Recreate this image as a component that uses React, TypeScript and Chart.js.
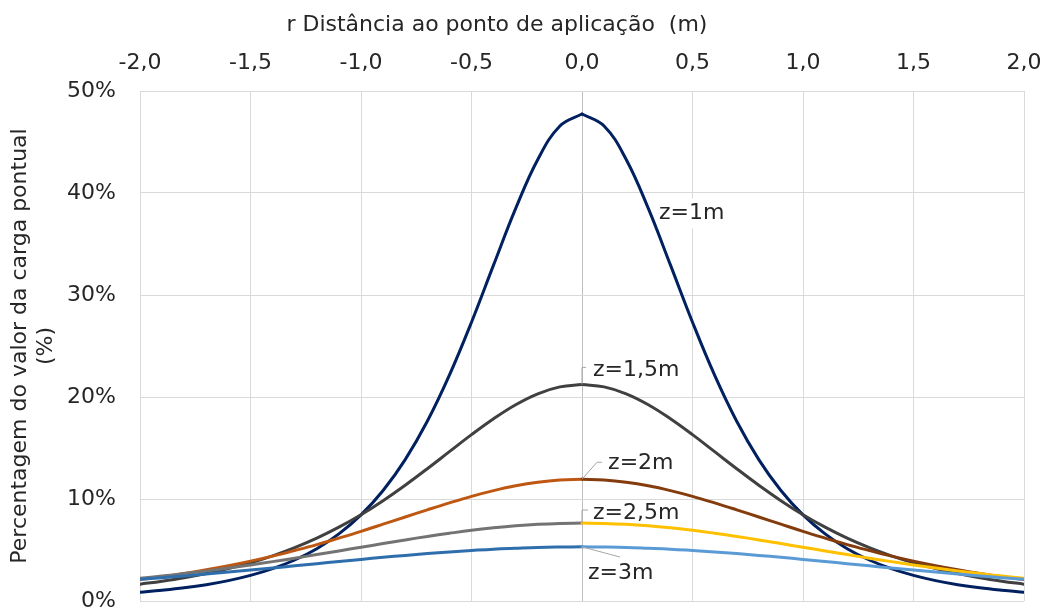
import React, { useEffect, useRef } from 'react';
import { Chart, registerables } from 'chart.js';

Chart.register(...registerables);

// r (m) positions
const R_LEFT = [-2.0, -1.9, -1.8, -1.7, -1.6, -1.5, -1.4, -1.3, -1.2, -1.1, -1.0, -0.9, -0.8, -0.7, -0.6, -0.5, -0.4, -0.3, -0.2, -0.1, 0.0];
const R_RIGHT = [0.0, 0.1, 0.2, 0.3, 0.4, 0.5, 0.6, 0.7, 0.8, 0.9, 1.0, 1.1, 1.2, 1.3, 1.4, 1.5, 1.6, 1.7, 1.8, 1.9, 2.0];

// percentage of point load (%)
const Z1_LEFT = [0.85, 1.05, 1.29, 1.60, 2.00, 2.51, 3.17, 4.02, 5.13, 6.58, 8.44, 10.83, 13.86, 17.62, 22.14, 27.33, 32.95, 38.49, 43.29, 46.57, 47.75];
const Z1_RIGHT = [47.75, 46.57, 43.29, 38.49, 32.95, 27.33, 22.14, 17.62, 13.86, 10.83, 8.44, 6.58, 5.13, 4.02, 3.17, 2.51, 2.00, 1.60, 1.29, 1.05, 0.85];
const Z15_LEFT = [1.65, 1.94, 2.28, 2.69, 3.18, 3.75, 4.43, 5.23, 6.16, 7.24, 8.46, 9.84, 11.35, 12.97, 14.64, 16.31, 17.87, 19.24, 20.31, 20.99, 21.22];
const Z15_RIGHT = [21.22, 20.99, 20.31, 19.24, 17.87, 16.31, 14.64, 12.97, 11.35, 9.84, 8.46, 7.24, 6.16, 5.23, 4.43, 3.75, 3.18, 2.69, 2.28, 1.94, 1.65];
const Z2_LEFT = [2.11, 2.39, 2.71, 3.07, 3.47, 3.91, 4.40, 4.95, 5.53, 6.17, 6.83, 7.53, 8.24, 8.94, 9.62, 10.26, 10.82, 11.29, 11.64, 11.86, 11.94];
const Z2_RIGHT = [11.94, 11.86, 11.64, 11.29, 10.82, 10.26, 9.62, 8.94, 8.24, 7.53, 6.83, 6.17, 5.53, 4.95, 4.40, 3.91, 3.47, 3.07, 2.71, 2.39, 2.11];
const Z25_LEFT = [2.22, 2.44, 2.69, 2.95, 3.24, 3.54, 3.86, 4.20, 4.55, 4.91, 5.27, 5.63, 5.99, 6.33, 6.64, 6.93, 7.17, 7.37, 7.52, 7.61, 7.64];
const Z25_RIGHT = [7.64, 7.61, 7.52, 7.37, 7.17, 6.93, 6.64, 6.33, 5.99, 5.63, 5.27, 4.91, 4.55, 4.20, 3.86, 3.54, 3.24, 2.95, 2.69, 2.44, 2.22];
const Z3_LEFT = [2.12, 2.28, 2.46, 2.64, 2.84, 3.04, 3.24, 3.45, 3.66, 3.87, 4.08, 4.28, 4.47, 4.65, 4.81, 4.95, 5.08, 5.17, 5.25, 5.29, 5.31];
const Z3_RIGHT = [5.31, 5.29, 5.25, 5.17, 5.08, 4.95, 4.81, 4.65, 4.47, 4.28, 4.08, 3.87, 3.66, 3.45, 3.24, 3.04, 2.84, 2.64, 2.46, 2.28, 2.12];

const X_TITLE = 'r Distância ao ponto de aplicação  (m)';
const Y_TITLE = ['Percentagem do valor da carga pontual', '(%)'];

type CurveLabel = { text: string; tx: number; ty: number; leader: [number, number][]; box?: boolean };
const CURVE_LABELS: CurveLabel[] = [
  { text: 'z=1m', tx: 0.348, ty: 38.0, leader: [], box: true },
  { text: 'z=1,5m', tx: 0.05, ty: 22.6, leader: [[0, 21.22], [0, 22.9], [0.018, 22.9]] },
  { text: 'z=2m', tx: 0.118, ty: 13.5, leader: [[0, 11.94], [0.068, 13.6], [0.09, 13.6]] },
  { text: 'z=2,5m', tx: 0.05, ty: 8.63, leader: [[0, 7.64], [0, 8.92], [0.027, 8.92]] },
  { text: 'z=3m', tx: 0.027, ty: 2.75, leader: [[0, 5.31], [0.172, 4.31]] },
];

const FONT = '"DejaVu Sans", Verdana, sans-serif';
const TEXT = '#262626';

function pts(xs: number[], ys: number[]) {
  return xs.map((x, i) => ({ x, y: ys[i] }));
}

function line(data: { x: number; y: number }[], color: string, order: number) {
  return {
    data,
    borderColor: color,
    backgroundColor: color,
    borderWidth: 3,
    pointRadius: 0,
    pointHoverRadius: 0,
    tension: 0.4,
    fill: false,
    borderCapStyle: 'round' as const,
    borderJoinStyle: 'round' as const,
    order,
  };
}

const labelsPlugin = {
  id: 'curveLabels',
  afterDatasetsDraw(chart: any) {
    const { ctx, scales } = chart;
    const x = scales.x;
    const y = scales.y;
    ctx.save();
    ctx.font = `22px ${FONT}`;
    ctx.textBaseline = 'middle';
    ctx.textAlign = 'left';
    for (const lab of CURVE_LABELS) {
      const px = x.getPixelForValue(lab.tx);
      const py = y.getPixelForValue(lab.ty);
      if (lab.box) {
        const w = ctx.measureText(lab.text).width;
        ctx.fillStyle = '#FFFFFF';
        ctx.fillRect(px - 1, py - 15, w + 7, 30);
      }
      if (lab.leader.length) {
        ctx.strokeStyle = '#A6A6A6';
        ctx.lineWidth = 1;
        ctx.beginPath();
        lab.leader.forEach(([lx, ly], i) => {
          const ax = x.getPixelForValue(lx);
          const ay = y.getPixelForValue(ly);
          if (i === 0) ctx.moveTo(ax, ay);
          else ctx.lineTo(ax, ay);
        });
        ctx.stroke();
      }
      ctx.fillStyle = TEXT;
      ctx.fillText(lab.text, px, py);
    }
    // top axis title (offset left of plot centre, as in the original)
    ctx.textAlign = 'center';
    ctx.fillStyle = TEXT;
    ctx.fillText(X_TITLE, x.getPixelForValue(-0.385), 25);
    ctx.restore();
  },
};

export default function App() {
  const ref = useRef<HTMLCanvasElement | null>(null);

  useEffect(() => {
    if (!ref.current) return;
    const chart = new Chart(ref.current, {
      type: 'line',
      data: {
        datasets: [
          line(pts(R_LEFT, Z1_LEFT), '#002060', 10),
          line(pts(R_RIGHT, Z1_RIGHT), '#002060', 9),
          line(pts(R_LEFT, Z15_LEFT), '#404040', 8),
          line(pts(R_RIGHT, Z15_RIGHT), '#404040', 7),
          line(pts(R_LEFT, Z2_LEFT), '#BE5712', 6),
          line(pts(R_RIGHT, Z2_RIGHT), '#843C0C', 5),
          line(pts(R_LEFT, Z25_LEFT), '#737373', 4),
          line(pts(R_RIGHT, Z25_RIGHT), '#FFC000', 3),
          line(pts(R_LEFT, Z3_LEFT), '#2E6EAD', 2),
          line(pts(R_RIGHT, Z3_RIGHT), '#5B9BD5', 1),
        ] as any,
      },
      options: {
        animation: false,
        responsive: true,
        maintainAspectRatio: false,
        events: [],
        layout: { padding: { left: 0, top: 0, right: 22, bottom: 12 } },
        plugins: {
          legend: { display: false },
          tooltip: { enabled: false },
          title: { display: false },
        },
        scales: {
          x: {
            type: 'linear',
            position: 'top',
            min: -2,
            max: 2,
            afterFit: (s: any) => {
              s.height = 91;
              s.paddingLeft = 0;
              s.paddingRight = 0;
            },
            ticks: {
              stepSize: 0.5,
              autoSkip: false,
              maxRotation: 0,
              padding: 15,
              color: TEXT,
              font: { family: FONT, size: 22 },
              callback: (v: any) => Number(v).toFixed(1).replace('.', ','),
            },
            grid: {
              drawTicks: false,
              color: (c: any) => (c.tick && Math.abs(c.tick.value) < 1e-9 ? '#BFBFBF' : '#D9D9D9'),
              lineWidth: 1,
            },
            border: { display: false },
            title: { display: false },
          },
          y: {
            type: 'linear',
            min: 0,
            max: 50,
            afterFit: (s: any) => {
              s.width = 140;
              s.paddingTop = 0;
              s.paddingBottom = 0;
            },
            ticks: {
              stepSize: 10,
              padding: 24,
              color: TEXT,
              font: { family: FONT, size: 22 },
              callback: (v: any) => `${v}%`,
            },
            grid: { drawTicks: false, color: '#D9D9D9', lineWidth: 1 },
            border: { display: false },
            title: {
              display: true,
              text: Y_TITLE,
              color: TEXT,
              font: { family: FONT, size: 22, lineHeight: 1.2 },
              padding: { top: 7, bottom: 0 },
            },
          },
        },
      },
      plugins: [labelsPlugin],
    });
    return () => chart.destroy();
  }, []);

  return (
    <div style={{ position: 'fixed', left: 0, top: 0, width: 1046, height: 613, background: '#fff' }}>
      <canvas ref={ref} />
    </div>
  );
}
